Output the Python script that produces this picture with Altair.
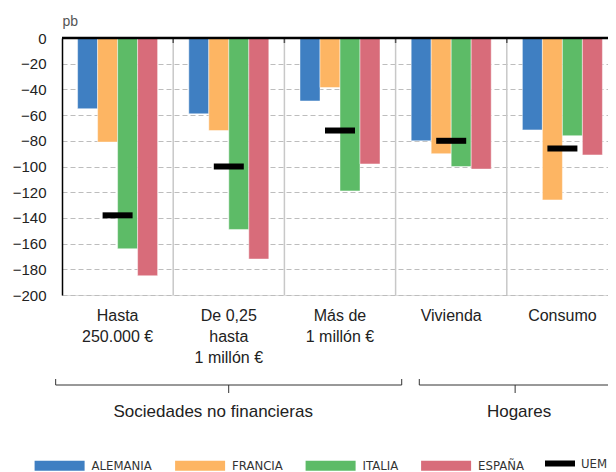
import math
import altair as alt
import pandas as pd

groups = ["Hasta\n250.000 €", "De 0,25\nhasta\n1 millón €", "Más de\n1 millón €", "Vivienda", "Consumo"]
countries = ["ALEMANIA", "FRANCIA", "ITALIA", "ESPAÑA"]
colors = ["#3F7FC2", "#FDB563", "#5DBB67", "#D86C7A"]
alemania = [-55, -59, -49, -80, -71.5]
francia = [-81, -72, -38.5, -90, -126]
italia = [-164, -149, -119, -100, -76]
espana = [-185, -172, -98, -102, -91]
uem = [-138, -100, -72, -80, -86]
y_ticks = list(range(-200, 1, 20))

sectors = ["Sociedades no financieras", "Hogares"]
brace_start = [-0.057, 3.213]   # in group units (0 = left edge of first group)
brace_end = [3.055, 4.937]
label_pos = [1.36, 4.11]

FONT = "Liberation Sans"
LEGEND_FONT = "DejaVu Sans Condensed, Liberation Sans Narrow, Liberation Sans"
W, H = 556, 257
STEP = W / len(groups)

rows = []
for name, vals in zip(countries, [alemania, francia, italia, espana]):
    for g, v in zip(groups, vals):
        rows.append({"grupo": g, "pais": name, "valor": v})
df_bars = pd.DataFrame(rows)
df_uem = pd.DataFrame({"grupo": groups, "valor": uem, "serie": ["UEM"] * len(groups)})
df_sep = pd.DataFrame({"grupo": groups[1:]})
df_zero = pd.DataFrame({"valor": [0]})

xscale = alt.Scale(domain=groups, paddingInner=0, paddingOuter=0)
yscale = alt.Scale(domain=[-200, 0], nice=False, zero=False)

x_axis = alt.Axis(
    title=None, domain=False, ticks=False, grid=False, labelAngle=0,
    labelExpr="split(datum.label, '\\n')", labelFont=FONT, labelFontSize=16,
    labelColor="#222222", labelLineHeight=21, labelBaseline="top", labelPadding=12.5,
    labelLimit=300,
)
y_axis = alt.Axis(
    values=y_ticks, title="pb", titleAngle=0, titleAlign="left", titleBaseline="alphabetic",
    titleX=0, titleY=-13, titleFont=FONT, titleFontSize=14, titleFontWeight="normal",
    titleColor="#555555", labelFont=FONT, labelFontSize=15, labelColor="#222222",
    labelPadding=16, ticks=False, domainColor="#000000", domainWidth=1.5,
    grid=True, gridDash=[5, 3], gridColor="#bdbdbd", gridWidth=1,
)


def xg(field, band=0.5):
    return alt.X(field, type="nominal", sort=groups, scale=xscale, bandPosition=band, axis=x_axis)


def yv(field="valor"):
    return alt.Y(field, type="quantitative", scale=yscale, axis=y_axis)


seps = alt.Chart(df_sep).mark_rule(color="#c8c8c8", strokeWidth=1.5).encode(x=xg("grupo", 0))
seps_top = alt.Chart(df_sep).mark_rule(color="#555555", strokeWidth=1.5).encode(
    x=xg("grupo", 0), y=alt.value(0), y2=alt.value(5),
)

bars = alt.Chart(df_bars).mark_bar(stroke="white", strokeWidth=1, strokeOpacity=0.45).encode(
    x=alt.X("grupo:N", sort=groups, scale=xscale, axis=x_axis),
    xOffset=alt.XOffset("pais:N", sort=countries,
                        scale=alt.Scale(domain=countries, paddingInner=0, paddingOuter=0.78)),
    y=yv(),
    color=alt.Color(
        "pais:N", scale=alt.Scale(domain=countries, range=colors),
        legend=alt.Legend(
            orient="none", legendX=-27.4, legendY=402.7, direction="horizontal", title=None,
            symbolType="M-1,-0.2H1V0.2H-1Z", symbolSize=2500, symbolStrokeWidth=0,
            symbolOpacity=1, labelFont=LEGEND_FONT, labelFontSize=13, labelColor="#333333",
            labelOffset=7, columnPadding=22.5, padding=0, labelLimit=300,
        ),
    ),
)

ticks = alt.Chart(df_uem).mark_tick(size=30, thickness=6, opacity=1, color="black").encode(
    x=alt.X("grupo:N", sort=groups, scale=xscale, axis=x_axis),
    y=yv(),
    fill=alt.Fill(
        "serie:N", scale=alt.Scale(domain=["UEM"], range=["#000000"]),
        legend=alt.Legend(
            orient="none", legendX=483, legendY=410.5, title=None,
            symbolType="M-1,-0.2H1V0.2H-1Z", symbolSize=900, symbolStrokeWidth=0,
            symbolOpacity=1, labelFont=LEGEND_FONT, labelFontSize=13, labelColor="#333333",
            labelOffset=6, padding=0,
        ),
    ),
)

zero = alt.Chart(df_zero).mark_rule(color="#000000", strokeWidth=2.5).encode(y=yv())


def at(u):
    """group name, band position in [0, 1], and leftover pixel offset for position u (group units)"""
    i = min(max(int(math.floor(u)), 0), len(groups) - 1)
    f = u - i
    off = 0.0
    if f < 0:
        off, f = f * STEP, 0.0
    elif f > 1:
        off, f = (f - 1) * STEP, 1.0
    return groups[i], f, off


brace_layers = []
for name, s, e, p in zip(sectors, brace_start, brace_end, label_pos):
    gs, fs, os_ = at(s)
    ge, fe, oe = at(e)
    gm, fm, om = at((s + e) / 2)
    gp, fp, op = at(p)
    d = alt.Chart(pd.DataFrame({"gs": [gs], "ge": [ge], "gm": [gm], "gp": [gp], "sector": [name]}))
    brace_layers += [
        d.mark_rule(color="#333333", strokeWidth=1, xOffset=os_, x2Offset=oe).encode(
            x=xg("gs", fs), x2=alt.X2("ge", bandPosition=fe), y=alt.value(347)),
        d.mark_rule(color="#333333", strokeWidth=1, xOffset=os_).encode(
            x=xg("gs", fs), y=alt.value(341), y2=alt.value(347)),
        d.mark_rule(color="#333333", strokeWidth=1, xOffset=oe).encode(
            x=xg("ge", fe), y=alt.value(341), y2=alt.value(347)),
        d.mark_rule(color="#333333", strokeWidth=1, xOffset=om).encode(
            x=xg("gm", fm), y=alt.value(347), y2=alt.value(355)),
        d.mark_text(font=FONT, fontSize=17, color="#222222", baseline="alphabetic", dx=op).encode(
            x=xg("gp", fp), y=alt.value(378.7), text="sector:N"),
    ]

chart = alt.layer(bars, seps, seps_top, ticks, zero, *brace_layers).properties(
    width=W, height=H,
    autosize=alt.AutoSizeParams(type="none"),
    padding={"left": 54, "top": 30, "right": -10, "bottom": 177},
).configure_view(stroke=None).configure(font=FONT)

chart.save("out.html", embed_options={"renderer": "svg", "actions": False})
